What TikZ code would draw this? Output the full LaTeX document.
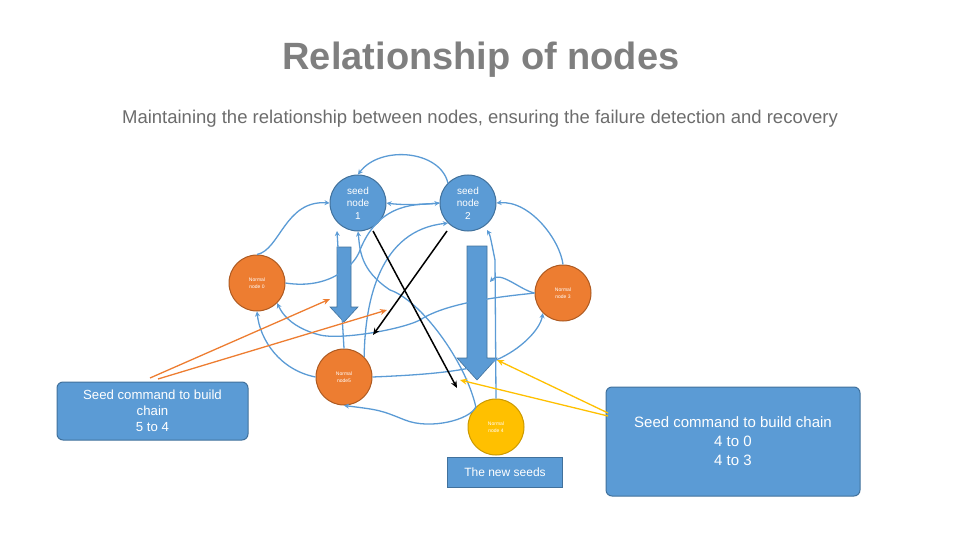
\documentclass[tikz,border=0pt]{standalone}
\usepackage{fontspec}
\setmainfont{Liberation Sans}
\usetikzlibrary{arrows.meta}
\definecolor{sblue}{HTML}{5B9BD5}
\definecolor{dblue}{HTML}{41719C}
\definecolor{sorange}{HTML}{ED7D31}
\definecolor{dorange}{HTML}{AE5A21}
\definecolor{syellow}{HTML}{FFC000}
\definecolor{tgray}{HTML}{7F7F7F}
\begin{document}
\begin{tikzpicture}[x=1pt,y=-1pt,
  seed/.style={circle,fill=sblue,draw=dblue,line width=1pt,minimum size=56pt,inner sep=0pt,align=center,text=white,font=\fontsize{10}{12.5}\selectfont},
  norm/.style={circle,fill=sorange,draw=dorange,line width=1pt,minimum size=56pt,inner sep=0pt,align=center,text=white,font=\fontsize{5}{6.5}\selectfont},
  box/.style={rounded corners=6pt,fill=sblue,draw=dblue,line width=1pt,align=center,text=white},
  conn/.style={draw=sblue,line width=1.3pt,-{Stealth[length=5pt,width=5pt]}},
  bigarrow/.style={fill=sblue,draw=dblue,line width=0.6pt},
  blk/.style={draw=black,line width=1.5pt,-{Stealth[length=7pt,width=6pt]}},
  org/.style={draw=sorange,line width=1.3pt,-{Stealth[length=7pt,width=6pt]}},
  yel/.style={draw=syellow,line width=1.3pt,-{Stealth[length=7pt,width=6pt]}}]
\useasboundingbox (0,0) rectangle (960,540);
\node[font=\bfseries\fontsize{38}{42}\selectfont,text=tgray] (title) at (481,60) {Relationship of nodes};
\node[font=\fontsize{18.5}{22}\selectfont,text=tgray!85!black] (sub) at (480,119) {Maintaining the relationship between nodes, ensuring the failure detection and recovery};
% big arrows
\draw[bigarrow] (337,247) -- (351,247) -- (351,307) -- (358,307) -- (344,322) -- (330,307) -- (337,307) -- cycle;
\draw[bigarrow] (467,246) -- (487,246) -- (487,358) -- (497,358) -- (477,380) -- (457,358) -- (467,358) -- cycle;
% nodes
\node[seed] (s1) at (358,203) {seed\\node\\1};
\node[seed] (s2) at (468,203) {seed\\node\\2};
\node[norm] (n0) at (257,283) {Normal\\node 0};
\node[norm] (n3) at (563,293) {Normal\\node 3};
\node[norm] (n5) at (344,377) {Normal\\node5};
\node[norm,fill=syellow,draw=syellow!80!black] (n4) at (496,427) {Normal\\node 4};
\node[box,rounded corners=0pt,minimum width=115pt,minimum height=30pt,font=\fontsize{12}{14}\selectfont] (ns) at (505,472) {The new seeds};
\node[box,minimum width=191pt,minimum height=58pt,font=\fontsize{13.2}{16}\selectfont] (lb) at (152.5,411) {Seed command to build\\chain\\5 to 4};
\node[box,minimum width=254pt,minimum height=109pt,font=\fontsize{15}{19}\selectfont] (rb) at (733,441.5) {Seed command to build chain\\4 to 0\\4 to 3};
% blue connectors
\draw[conn] (s2.north west) .. controls (440,150) and (380,145) .. (s1.north);
\draw[conn] (n0.north) .. controls (280,250) and (285,200) .. (s1.west);
\draw[conn] (n0.east) .. controls (330,290) and (355,265) .. (360,250) .. controls (380,200) and (420,205) .. (s2.west);
\draw[conn] (s2.west) .. controls (420,205) and (400,205) .. (s1.east);
\draw[conn] (n3.north) .. controls (560,240) and (530,200) .. (s2.east);
\draw[conn] (n3.west) .. controls (520,290) and (500,270) .. (490,282);
\draw[conn] (n3.west) .. controls (520,295) and (450,300) .. (420,320) .. controls (400,330) and (340,340) .. (320,335) .. controls (300,330) and (285,320) .. (n0.south east);
\draw[conn] (n5.west) .. controls (280,370) and (260,340) .. (n0.south);
\draw[conn] (n5.north) -- (337,231);
\draw[conn] (n4.north west) .. controls (470,420) and (430,430) .. (405,420) .. controls (380,410) .. (n5.south);
\draw[conn] (n5.east) .. controls (420,375) and (470,372) .. (496,360) .. controls (520,350) and (540,330) .. (n3.south west);
\draw[conn] (n4.north) -- (495,260) .. controls (490,235) .. (487,230);
\draw[conn] (n4.north west) .. controls (465,360) and (420,300) .. (390,290) .. controls (360,270) and (360,250) .. (s1.south);
\draw[conn] (n5.north east) .. controls (365,300) and (380,230) .. (s2.south west);
% black crossing
\draw[blk] (373,231) -- (457,388);
\draw[blk] (447,231) -- (373,335);
% orange and yellow
\draw[org] (150,378) -- (330,299);
\draw[org] (158,379) -- (387,310);
\draw[yel] (608,413) -- (497,360);
\draw[yel] (608,416) -- (460,380);
\end{tikzpicture}
\end{document}
